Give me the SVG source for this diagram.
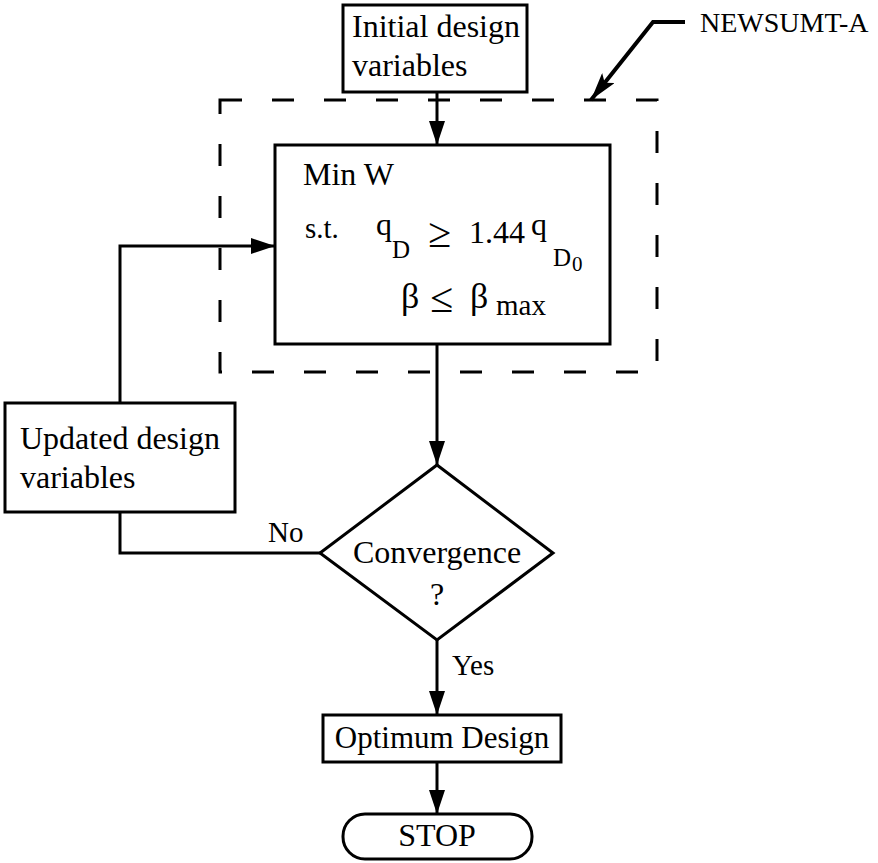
<svg xmlns="http://www.w3.org/2000/svg" width="878" height="863" viewBox="0 0 878 863">
<style>
.box{fill:#fff;stroke:#000;stroke-width:3}
.ln{fill:none;stroke:#000;stroke-width:3}
text{font-family:"Liberation Serif","Times New Roman",serif;fill:#000;font-size:32px}
.sub{font-size:25px}
.sym{font-size:36px}
.rel{font-size:42px}
</style>
<defs>
<marker id="ah" viewBox="0 0 24 16" refX="24" refY="8" markerWidth="24" markerHeight="16" markerUnits="userSpaceOnUse" orient="auto">
<path d="M0,0 L24,8 L0,16 Z" fill="#000"/>
</marker>
<marker id="ah2" viewBox="0 0 28 16" refX="28" refY="8" markerWidth="28" markerHeight="16" markerUnits="userSpaceOnUse" orient="auto">
<path d="M0,0 L28,8 L0,16 L6,8 Z" fill="#000"/>
</marker>
</defs>
<g id="newsumt-a">
<rect x="220" y="100" width="437" height="272" fill="none" stroke="#000" stroke-width="3" stroke-dasharray="22 30"/>
<polyline points="685,22 653,22 591,100" fill="none" stroke="#000" stroke-width="4" marker-end="url(#ah2)"/>
<text x="700" y="32" style="font-size:28px">NEWSUMT-A</text>
</g>
<g id="connectors">
<line class="ln" x1="437" y1="92" x2="437" y2="145" marker-end="url(#ah)"/>
<line class="ln" x1="437" y1="345" x2="437" y2="465" marker-end="url(#ah)"/>
<line class="ln" x1="437" y1="640" x2="437" y2="715" marker-end="url(#ah)"/>
<line class="ln" x1="437" y1="762" x2="437" y2="814" marker-end="url(#ah)"/>
<polyline class="ln" points="320,553 120,553 120,512"/>
<polyline class="ln" points="120,403 120,246 275,246" marker-end="url(#ah)"/>
<text x="268" y="542" style="font-size:29px">No</text>
<text x="452" y="675" style="font-size:29px">Yes</text>
</g>
<g id="initial">
<rect class="box" x="343" y="5" width="184" height="87"/>
<text x="352" y="37">Initial design</text>
<text x="352" y="76">variables</text>
</g>
<g id="minw">
<rect class="box" x="275" y="145" width="335" height="199"/>
<text x="303" y="185">Min W</text>
<text x="305" y="238" style="font-size:29px">s.t.</text>
<text x="376" y="235">q</text>
<text x="392" y="258" class="sub">D</text>
<text x="428" y="247" class="rel">≥</text>
<text x="469" y="243">1.44</text>
<text x="531" y="235">q</text>
<text x="553" y="266" class="sub">D</text>
<text x="572" y="271" style="font-size:21px">0</text>
<text x="401" y="308" class="sym">β</text>
<text x="430" y="312" class="rel">≤</text>
<text x="470" y="308" class="sym">β</text>
<text x="496" y="315" style="font-size:29px">max</text>
</g>
<g id="updated">
<rect class="box" x="5" y="403" width="230" height="109"/>
<text x="20" y="449">Updated design</text>
<text x="20" y="488">variables</text>
</g>
<g id="convergence">
<polygon class="box" points="437,465 553,553 437,640 320,553"/>
<text x="437" y="563" text-anchor="middle">Convergence</text>
<text x="437" y="605" text-anchor="middle">?</text>
</g>
<g id="optimum">
<rect class="box" x="323" y="715" width="238" height="47"/>
<text x="442" y="748" text-anchor="middle" style="font-size:31px">Optimum Design</text>
</g>
<g id="stop">
<rect class="box" x="343" y="814" width="189" height="45" rx="22" ry="22"/>
<text x="437" y="846" text-anchor="middle">STOP</text>
</g>
</svg>
